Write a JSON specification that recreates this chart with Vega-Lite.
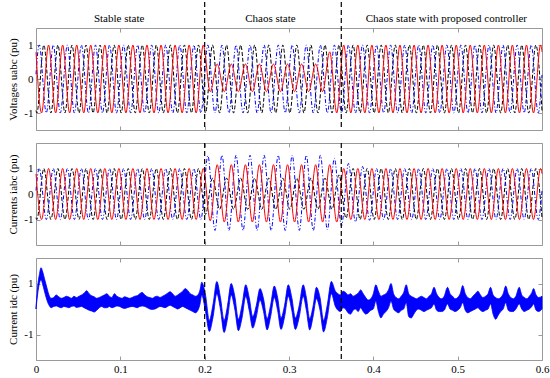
{
"$schema": "https://vega.github.io/schema/vega-lite/v6.json",
"padding": {"left": 7, "top": 0, "right": 0, "bottom": 0},
"spacing": 13,
"bounds": "flush",
"config": {
 "view": {"stroke": "#9a9a9a", "strokeWidth": 1},
 "font": "Liberation Serif",
 "axis": {"domain": false, "grid": false, "ticks": true, "tickSize": -4, "tickColor": "#9a9a9a", "labelFont": "Liberation Serif", "labelFontSize": 11, "labelColor": "#000000", "labelPadding": 7, "labelFlush": false, "labelOverlap": false, "titleFont": "Liberation Serif", "titleFontSize": 11, "titleFontWeight": "normal", "titleColor": "#000000", "titlePadding": 5}
},
"datasets": {
"red": [
{"t":0,"u":0.79,"i":0.79},{"t":0.0066,"u":-1,"i":-1},{"t":0.0149,"u":1,"i":1},{"t":0.0233,"u":-1,"i":-1},{"t":0.0316,"u":1,"i":1},{"t":0.0399,"u":-1,"i":-1},{"t":0.0483,"u":1,"i":1},{"t":0.0566,"u":-1,"i":-1},{"t":0.0649,"u":1,"i":1},{"t":0.0733,"u":-1,"i":-1},{"t":0.0816,"u":1,"i":1},{"t":0.0899,"u":-1,"i":-1},{"t":0.0983,"u":1,"i":1},{"t":0.1066,"u":-1,"i":-1},{"t":0.1149,"u":1,"i":1},{"t":0.1233,"u":-1,"i":-1},{"t":0.1316,"u":1,"i":1},{"t":0.1399,"u":-1,"i":-1},{"t":0.1483,"u":1,"i":1},{"t":0.1566,"u":-1,"i":-1},{"t":0.1649,"u":1,"i":1},{"t":0.1733,"u":-1,"i":-1},{"t":0.1816,"u":1,"i":1},{"t":0.1899,"u":-1,"i":-1},{"t":0.1983,"u":1,"i":1},
{"t":0.2066,"u":-0.37,"i":-1.05},{"t":0.2149,"u":0.44,"i":1.15},{"t":0.2233,"u":-0.37,"i":-1.1},{"t":0.2316,"u":0.44,"i":1.15},{"t":0.2399,"u":-0.37,"i":-1.1},{"t":0.2483,"u":0.44,"i":1.15},{"t":0.2566,"u":-0.37,"i":-1.1},{"t":0.2649,"u":0.44,"i":1.15},{"t":0.2733,"u":-0.37,"i":-1.1},{"t":0.2816,"u":0.44,"i":1.15},{"t":0.2899,"u":-0.37,"i":-1.1},{"t":0.2983,"u":0.44,"i":1.15},{"t":0.3066,"u":-0.37,"i":-1.1},{"t":0.3149,"u":0.44,"i":1.15},{"t":0.3233,"u":-0.37,"i":-1.1},{"t":0.3316,"u":0.44,"i":1.15},{"t":0.3399,"u":-0.37,"i":-1.1},{"t":0.3483,"u":0.8,"i":1.15},{"t":0.3566,"u":-1,"i":-1.1},
{"t":0.3649,"u":1,"i":1},{"t":0.3733,"u":-1,"i":-1},{"t":0.3816,"u":1,"i":1},{"t":0.3899,"u":-1,"i":-1},{"t":0.3983,"u":1,"i":1},{"t":0.4066,"u":-1,"i":-1},{"t":0.4149,"u":1,"i":1},{"t":0.4233,"u":-1,"i":-1},{"t":0.4316,"u":1,"i":1},{"t":0.4399,"u":-1,"i":-1},{"t":0.4483,"u":1,"i":1},{"t":0.4566,"u":-1,"i":-1},{"t":0.4649,"u":1,"i":1},{"t":0.4733,"u":-1,"i":-1},{"t":0.4816,"u":1,"i":1},{"t":0.4899,"u":-1,"i":-1},{"t":0.4983,"u":1,"i":1},{"t":0.5066,"u":-1,"i":-1},{"t":0.5149,"u":1,"i":1},{"t":0.5233,"u":-1,"i":-1},{"t":0.5316,"u":1,"i":1},{"t":0.5399,"u":-1,"i":-1},{"t":0.5483,"u":1,"i":1},{"t":0.5566,"u":-1,"i":-1},{"t":0.5649,"u":1,"i":1},{"t":0.5733,"u":-1,"i":-1},{"t":0.5816,"u":1,"i":1},{"t":0.5899,"u":-1,"i":-1},{"t":0.5983,"u":1,"i":1},{"t":0.6,"u":0.8,"i":0.8}
],
"black": [
{"t":0,"u":-0.93,"i":-0.93},{"t":0.001,"u":-1,"i":-1},{"t":0.0093,"u":1,"i":1},{"t":0.0177,"u":-1,"i":-1},{"t":0.026,"u":1,"i":1},{"t":0.0343,"u":-1,"i":-1},{"t":0.0427,"u":1,"i":1},{"t":0.051,"u":-1,"i":-1},{"t":0.0593,"u":1,"i":1},{"t":0.0677,"u":-1,"i":-1},{"t":0.076,"u":1,"i":1},{"t":0.0843,"u":-1,"i":-1},{"t":0.0927,"u":1,"i":1},{"t":0.101,"u":-1,"i":-1},{"t":0.1093,"u":1,"i":1},{"t":0.1177,"u":-1,"i":-1},{"t":0.126,"u":1,"i":1},{"t":0.1343,"u":-1,"i":-1},{"t":0.1427,"u":1,"i":1},{"t":0.151,"u":-1,"i":-1},{"t":0.1593,"u":1,"i":1},{"t":0.1677,"u":-1,"i":-1},{"t":0.176,"u":1,"i":1},{"t":0.1843,"u":-1,"i":-1},{"t":0.1927,"u":1,"i":1},
{"t":0.201,"u":-1,"i":-0.8},{"t":0.2093,"u":1,"i":0.62},{"t":0.2177,"u":-1,"i":-0.6},{"t":0.226,"u":1,"i":0.62},{"t":0.2343,"u":-1,"i":-0.6},{"t":0.2427,"u":1,"i":0.62},{"t":0.251,"u":-1,"i":-0.6},{"t":0.2593,"u":1,"i":0.62},{"t":0.2677,"u":-1,"i":-0.6},{"t":0.276,"u":1,"i":0.62},{"t":0.2843,"u":-1,"i":-0.6},{"t":0.2927,"u":1,"i":0.62},{"t":0.301,"u":-1,"i":-0.6},{"t":0.3093,"u":1,"i":0.62},{"t":0.3177,"u":-1,"i":-0.6},{"t":0.326,"u":1,"i":0.62},{"t":0.3343,"u":-1,"i":-0.6},{"t":0.3427,"u":1,"i":0.62},{"t":0.351,"u":-1,"i":-0.6},{"t":0.3593,"u":1,"i":0.75},{"t":0.3677,"u":-1,"i":-0.95},
{"t":0.376,"u":1,"i":1},{"t":0.3843,"u":-1,"i":-1},{"t":0.3927,"u":1,"i":1},{"t":0.401,"u":-1,"i":-1},{"t":0.4093,"u":1,"i":1},{"t":0.4177,"u":-1,"i":-1},{"t":0.426,"u":1,"i":1},{"t":0.4343,"u":-1,"i":-1},{"t":0.4427,"u":1,"i":1},{"t":0.451,"u":-1,"i":-1},{"t":0.4593,"u":1,"i":1},{"t":0.4677,"u":-1,"i":-1},{"t":0.476,"u":1,"i":1},{"t":0.4843,"u":-1,"i":-1},{"t":0.4927,"u":1,"i":1},{"t":0.501,"u":-1,"i":-1},{"t":0.5093,"u":1,"i":1},{"t":0.5177,"u":-1,"i":-1},{"t":0.526,"u":1,"i":1},{"t":0.5343,"u":-1,"i":-1},{"t":0.5427,"u":1,"i":1},{"t":0.551,"u":-1,"i":-1},{"t":0.5593,"u":1,"i":1},{"t":0.5677,"u":-1,"i":-1},{"t":0.576,"u":1,"i":1},{"t":0.5843,"u":-1,"i":-1},{"t":0.5927,"u":1,"i":1},{"t":0.6,"u":-0.93,"i":-0.93}
],
"blue": [
{"t":0,"u":0.14,"i":0.14},{"t":0.0038,"u":1,"i":1},{"t":0.0122,"u":-1,"i":-1},{"t":0.0205,"u":1,"i":1},{"t":0.0288,"u":-1,"i":-1},{"t":0.0372,"u":1,"i":1},{"t":0.0455,"u":-1,"i":-1},{"t":0.0538,"u":1,"i":1},{"t":0.0622,"u":-1,"i":-1},{"t":0.0705,"u":1,"i":1},{"t":0.0788,"u":-1,"i":-1},{"t":0.0872,"u":1,"i":1},{"t":0.0955,"u":-1,"i":-1},{"t":0.1038,"u":1,"i":1},{"t":0.1122,"u":-1,"i":-1},{"t":0.1205,"u":1,"i":1},{"t":0.1288,"u":-1,"i":-1},{"t":0.1372,"u":1,"i":1},{"t":0.1455,"u":-1,"i":-1},{"t":0.1538,"u":1,"i":1},{"t":0.1622,"u":-1,"i":-1},{"t":0.1705,"u":1,"i":1},{"t":0.1788,"u":-1,"i":-1},{"t":0.1872,"u":1,"i":1},{"t":0.1955,"u":-1,"i":-1},
{"t":0.2038,"u":1,"i":1.5},{"t":0.2122,"u":-1,"i":-1.43},{"t":0.2205,"u":1,"i":1.52},{"t":0.2288,"u":-1,"i":-1.43},{"t":0.2372,"u":1,"i":1.52},{"t":0.2455,"u":-1,"i":-1.43},{"t":0.2538,"u":1,"i":1.52},{"t":0.2622,"u":-1,"i":-1.43},{"t":0.2705,"u":1,"i":1.52},{"t":0.2788,"u":-1,"i":-1.43},{"t":0.2872,"u":1,"i":1.52},{"t":0.2955,"u":-1,"i":-1.43},{"t":0.3038,"u":1,"i":1.52},{"t":0.3122,"u":-1,"i":-1.43},{"t":0.3205,"u":1,"i":1.52},{"t":0.3288,"u":-1,"i":-1.43},{"t":0.3372,"u":1,"i":1.52},{"t":0.3455,"u":-1,"i":-1.4},{"t":0.3538,"u":1,"i":1.4},{"t":0.3622,"u":-1,"i":-1.25},{"t":0.3705,"u":1,"i":1.2},{"t":0.3788,"u":-1,"i":-1.1},{"t":0.3872,"u":1,"i":1.08},{"t":0.3955,"u":-1,"i":-1.03},
{"t":0.4038,"u":1,"i":1},{"t":0.4122,"u":-1,"i":-1},{"t":0.4205,"u":1,"i":1},{"t":0.4288,"u":-1,"i":-1},{"t":0.4372,"u":1,"i":1},{"t":0.4455,"u":-1,"i":-1},{"t":0.4538,"u":1,"i":1},{"t":0.4622,"u":-1,"i":-1},{"t":0.4705,"u":1,"i":1},{"t":0.4788,"u":-1,"i":-1},{"t":0.4872,"u":1,"i":1},{"t":0.4955,"u":-1,"i":-1},{"t":0.5038,"u":1,"i":1},{"t":0.5122,"u":-1,"i":-1},{"t":0.5205,"u":1,"i":1},{"t":0.5288,"u":-1,"i":-1},{"t":0.5372,"u":1,"i":1},{"t":0.5455,"u":-1,"i":-1},{"t":0.5538,"u":1,"i":1},{"t":0.5622,"u":-1,"i":-1},{"t":0.5705,"u":1,"i":1},{"t":0.5788,"u":-1,"i":-1},{"t":0.5872,"u":1,"i":1},{"t":0.5955,"u":-1,"i":-1},{"t":0.6,"u":0.12,"i":0.12}
],
"idc": [
{"t":0,"hi":0.05,"lo":0},{"t":0.002,"hi":0.9,"lo":0.6},{"t":0.004,"hi":1.35,"lo":1.0},{"t":0.006,"hi":1.62,"lo":1.15},{"t":0.008,"hi":1.45,"lo":0.95},{"t":0.01,"hi":1.2,"lo":0.7},{"t":0.012,"hi":0.95,"lo":0.45},{"t":0.014,"hi":0.7,"lo":0.25},{"t":0.016,"hi":0.5,"lo":0.12},{"t":0.018,"hi":0.42,"lo":0.05},
{"t":0.021,"hi":0.45,"lo":0.1},{"t":0.024,"hi":0.55,"lo":0.12},{"t":0.027,"hi":0.48,"lo":0.08},{"t":0.03,"hi":0.42,"lo":0.05},{"t":0.033,"hi":0.45,"lo":0.1},{"t":0.036,"hi":0.5,"lo":0.08},{"t":0.039,"hi":0.47,"lo":0.05},{"t":0.042,"hi":0.42,"lo":0.1},{"t":0.045,"hi":0.5,"lo":0.12},{"t":0.048,"hi":0.45,"lo":0.06},
{"t":0.051,"hi":0.5,"lo":0.08},{"t":0.054,"hi":0.55,"lo":0.1},{"t":0.057,"hi":0.62,"lo":0.05},{"t":0.06,"hi":0.72,"lo":0.0},{"t":0.063,"hi":0.6,"lo":-0.05},{"t":0.066,"hi":0.52,"lo":-0.08},{"t":0.069,"hi":0.48,"lo":-0.12},{"t":0.072,"hi":0.42,"lo":-0.05},{"t":0.075,"hi":0.45,"lo":0.05},{"t":0.078,"hi":0.5,"lo":0.1},
{"t":0.081,"hi":0.55,"lo":0.05},{"t":0.084,"hi":0.6,"lo":0.05},{"t":0.087,"hi":0.5,"lo":0.1},{"t":0.09,"hi":0.45,"lo":0.05},{"t":0.093,"hi":0.6,"lo":0.08},{"t":0.096,"hi":0.5,"lo":0.12},{"t":0.099,"hi":0.45,"lo":0.1},{"t":0.102,"hi":0.42,"lo":0.05},{"t":0.105,"hi":0.48,"lo":0.02},{"t":0.108,"hi":0.45,"lo":0.05},
{"t":0.111,"hi":0.42,"lo":0.08},{"t":0.114,"hi":0.45,"lo":0.1},{"t":0.117,"hi":0.5,"lo":0.08},{"t":0.12,"hi":0.52,"lo":0.05},{"t":0.123,"hi":0.6,"lo":0.1},{"t":0.126,"hi":0.65,"lo":0.12},{"t":0.129,"hi":0.55,"lo":0.1},{"t":0.132,"hi":0.48,"lo":0.05},{"t":0.135,"hi":0.45,"lo":0.0},{"t":0.138,"hi":0.42,"lo":-0.02},
{"t":0.141,"hi":0.48,"lo":0.0},{"t":0.144,"hi":0.5,"lo":0.05},{"t":0.147,"hi":0.45,"lo":0.1},{"t":0.15,"hi":0.5,"lo":0.08},{"t":0.153,"hi":0.55,"lo":0.05},{"t":0.156,"hi":0.62,"lo":0.1},{"t":0.159,"hi":0.68,"lo":0.15},{"t":0.162,"hi":0.6,"lo":0.1},{"t":0.165,"hi":0.5,"lo":0.05},{"t":0.168,"hi":0.55,"lo":0.0},
{"t":0.171,"hi":0.62,"lo":0.05},{"t":0.174,"hi":0.7,"lo":0.1},{"t":0.177,"hi":0.8,"lo":0.05},{"t":0.18,"hi":0.72,"lo":0.0},{"t":0.183,"hi":0.6,"lo":-0.05},{"t":0.186,"hi":0.55,"lo":-0.1},{"t":0.189,"hi":0.5,"lo":-0.15},{"t":0.192,"hi":0.55,"lo":-0.05},{"t":0.1945,"hi":0.75,"lo":0.2},
{"t":0.1965,"hi":1.05,"lo":0.55},{"t":0.201,"hi":0.55,"lo":-0.1},{"t":0.2055,"hi":-0.45,"lo":-0.88},{"t":0.21,"hi":0.2,"lo":-0.3},{"t":0.2144,"hi":1.08,"lo":0.6},{"t":0.2187,"hi":0.45,"lo":0.0},{"t":0.223,"hi":-0.45,"lo":-0.92},{"t":0.2272,"hi":0.15,"lo":-0.35},
{"t":0.2314,"hi":1.0,"lo":0.55},{"t":0.2357,"hi":0.5,"lo":0.0},{"t":0.24,"hi":-0.4,"lo":-0.85},{"t":0.2443,"hi":0.15,"lo":-0.35},{"t":0.2487,"hi":0.95,"lo":0.5},{"t":0.2528,"hi":0.45,"lo":-0.05},{"t":0.257,"hi":-0.3,"lo":-0.75},{"t":0.2613,"hi":0.15,"lo":-0.3},
{"t":0.2656,"hi":0.8,"lo":0.35},{"t":0.2698,"hi":0.4,"lo":-0.1},{"t":0.274,"hi":-0.38,"lo":-0.82},{"t":0.2782,"hi":0.15,"lo":-0.3},{"t":0.2825,"hi":0.9,"lo":0.45},{"t":0.2865,"hi":0.45,"lo":-0.05},{"t":0.2905,"hi":-0.35,"lo":-0.8},{"t":0.2948,"hi":0.15,"lo":-0.3},
{"t":0.2991,"hi":0.95,"lo":0.5},{"t":0.3033,"hi":0.45,"lo":-0.05},{"t":0.3075,"hi":-0.35,"lo":-0.8},{"t":0.3122,"hi":0.15,"lo":-0.3},{"t":0.3168,"hi":0.95,"lo":0.5},{"t":0.3206,"hi":0.45,"lo":-0.05},{"t":0.3245,"hi":-0.38,"lo":-0.82},{"t":0.3285,"hi":0.1,"lo":-0.3},
{"t":0.3325,"hi":0.85,"lo":0.4},{"t":0.3368,"hi":0.45,"lo":-0.05},{"t":0.341,"hi":-0.45,"lo":-0.9},{"t":0.3456,"hi":0.2,"lo":-0.3},{"t":0.3502,"hi":1.08,"lo":0.6},
{"t":0.355,"hi":0.7,"lo":0.1},{"t":0.358,"hi":0.6,"lo":-0.05},{"t":0.361,"hi":0.55,"lo":-0.1},{"t":0.364,"hi":0.7,"lo":0.05},{"t":0.367,"hi":0.65,"lo":0.0},{"t":0.37,"hi":0.55,"lo":-0.15},{"t":0.373,"hi":0.6,"lo":-0.2},{"t":0.376,"hi":0.5,"lo":-0.05},{"t":0.379,"hi":0.55,"lo":0.0},{"t":0.382,"hi":0.62,"lo":-0.1},
{"t":0.385,"hi":0.75,"lo":0.05},{"t":0.388,"hi":0.6,"lo":-0.1},{"t":0.391,"hi":0.45,"lo":-0.2},{"t":0.394,"hi":0.35,"lo":-0.15},{"t":0.397,"hi":0.4,"lo":-0.05},{"t":0.4,"hi":0.6,"lo":0.0},{"t":0.403,"hi":0.95,"lo":0.3},{"t":0.406,"hi":0.7,"lo":-0.1},{"t":0.409,"hi":0.5,"lo":-0.35},{"t":0.412,"hi":0.55,"lo":-0.2},
{"t":0.415,"hi":0.6,"lo":-0.1},{"t":0.418,"hi":0.75,"lo":0.05},{"t":0.421,"hi":1.0,"lo":0.3},{"t":0.424,"hi":0.6,"lo":0.0},{"t":0.427,"hi":0.45,"lo":-0.1},{"t":0.43,"hi":0.4,"lo":-0.15},{"t":0.433,"hi":0.5,"lo":-0.05},{"t":0.436,"hi":0.65,"lo":0.0},{"t":0.439,"hi":0.95,"lo":0.25},{"t":0.442,"hi":0.6,"lo":-0.3},
{"t":0.445,"hi":0.5,"lo":-0.35},{"t":0.448,"hi":0.45,"lo":-0.2},{"t":0.451,"hi":0.4,"lo":-0.05},{"t":0.454,"hi":0.45,"lo":0.0},{"t":0.457,"hi":0.5,"lo":-0.05},{"t":0.46,"hi":0.45,"lo":-0.1},{"t":0.463,"hi":0.4,"lo":-0.05},{"t":0.466,"hi":0.5,"lo":0.0},{"t":0.469,"hi":0.6,"lo":0.05},{"t":0.472,"hi":0.85,"lo":0.2},
{"t":0.475,"hi":0.6,"lo":-0.05},{"t":0.478,"hi":0.45,"lo":-0.1},{"t":0.481,"hi":0.4,"lo":-0.1},{"t":0.484,"hi":0.5,"lo":-0.05},{"t":0.488,"hi":0.85,"lo":0.2},{"t":0.491,"hi":0.6,"lo":0.0},{"t":0.494,"hi":0.5,"lo":-0.05},{"t":0.497,"hi":0.4,"lo":-0.1},{"t":0.5,"hi":0.45,"lo":-0.05},{"t":0.503,"hi":0.6,"lo":0.05},
{"t":0.506,"hi":0.92,"lo":0.25},{"t":0.509,"hi":0.6,"lo":-0.05},{"t":0.512,"hi":0.45,"lo":-0.15},{"t":0.515,"hi":0.4,"lo":-0.1},{"t":0.518,"hi":0.5,"lo":-0.05},{"t":0.521,"hi":0.6,"lo":0.0},{"t":0.524,"hi":0.7,"lo":0.05},{"t":0.527,"hi":0.55,"lo":-0.05},{"t":0.53,"hi":0.45,"lo":-0.1},{"t":0.533,"hi":0.5,"lo":-0.05},
{"t":0.536,"hi":0.6,"lo":0.0},{"t":0.539,"hi":0.85,"lo":0.2},{"t":0.542,"hi":0.55,"lo":-0.2},{"t":0.545,"hi":0.45,"lo":-0.4},{"t":0.548,"hi":0.4,"lo":-0.25},{"t":0.551,"hi":0.45,"lo":-0.1},{"t":0.554,"hi":0.6,"lo":0.0},{"t":0.557,"hi":0.9,"lo":0.25},{"t":0.56,"hi":0.6,"lo":-0.05},{"t":0.563,"hi":0.45,"lo":-0.1},
{"t":0.566,"hi":0.4,"lo":-0.1},{"t":0.569,"hi":0.5,"lo":0.0},{"t":0.573,"hi":0.85,"lo":0.2},{"t":0.576,"hi":0.55,"lo":0.0},{"t":0.579,"hi":0.45,"lo":-0.1},{"t":0.582,"hi":0.4,"lo":-0.05},{"t":0.585,"hi":0.5,"lo":0.0},{"t":0.588,"hi":0.65,"lo":0.1},{"t":0.59,"hi":0.8,"lo":0.2},{"t":0.593,"hi":0.55,"lo":-0.05},
{"t":0.596,"hi":0.45,"lo":-0.1},{"t":0.6,"hi":0.5,"lo":0.0}
],
"cuts": [{"t":0.2},{"t":0.362}]
},
"vconcat": [
{
 "width": 506, "height": 102,
 "resolve": {"axis": {"x": "independent", "y": "independent"}},
 "layer": [
  {"data": {"name": "black"}, "mark": {"type": "line", "interpolate": "monotone", "color": "#000000", "strokeDash": [4, 2], "strokeWidth": 1},
   "encoding": {"x": {"field": "t", "type": "quantitative", "scale": {"domain": [0, 0.6], "nice": false}, "axis": {"values": [0, 0.1, 0.2, 0.3, 0.4, 0.5, 0.6], "labels": false, "title": null}},
                "y": {"field": "u", "type": "quantitative", "scale": {"domain": [-1.5, 1.5], "nice": false}, "axis": {"values": [-1, 0, 1], "title": "Voltages uabc (pu)", "labelExpr": "''+datum.value"}}}},
  {"data": {"name": "blue"}, "mark": {"type": "line", "interpolate": "monotone", "color": "#0000ff", "strokeDash": [4, 2, 1, 2], "strokeWidth": 1},
   "encoding": {"x": {"field": "t", "type": "quantitative", "axis": {"orient": "top", "values": [0.098, 0.2774, 0.486], "ticks": false, "labelPadding": 7, "labelBaseline": "alphabetic", "title": null, "labelExpr": "datum.value < 0.15 ? 'Stable state' : (datum.value < 0.35 ? 'Chaos state' : 'Chaos state with proposed controller')"}},
                "y": {"field": "u", "type": "quantitative", "axis": null}}},
  {"data": {"name": "red"}, "mark": {"type": "line", "interpolate": "monotone", "color": "#ff0000", "strokeWidth": 1},
   "encoding": {"x": {"field": "t", "type": "quantitative", "axis": null}, "y": {"field": "u", "type": "quantitative", "axis": null}}},
  {"data": {"name": "cuts"}, "mark": {"type": "rule", "color": "#000000", "strokeDash": [5, 3], "strokeWidth": 1.2, "yOffset": -26, "y2Offset": 13},
   "encoding": {"x": {"field": "t", "type": "quantitative", "axis": {"orient": "top", "values": [0, 0.1, 0.2, 0.3, 0.4, 0.5, 0.6], "labels": false, "title": null}}}},
  {"data": {"name": "cuts"}, "mark": {"type": "point", "opacity": 0},
   "encoding": {"x": {"field": "t", "type": "quantitative", "axis": null},
                "y": {"datum": 0, "type": "quantitative", "scale": {"domain": [-1.5, 1.5], "nice": false}, "axis": {"orient": "right", "values": [-1, 0, 1], "labels": false, "title": null}}}}
 ]
},
{
 "width": 506, "height": 102,
 "resolve": {"axis": {"x": "independent", "y": "independent"}},
 "layer": [
  {"data": {"name": "black"}, "mark": {"type": "line", "interpolate": "monotone", "color": "#000000", "strokeDash": [4, 2], "strokeWidth": 1},
   "encoding": {"x": {"field": "t", "type": "quantitative", "scale": {"domain": [0, 0.6], "nice": false}, "axis": {"values": [0, 0.1, 0.2, 0.3, 0.4, 0.5, 0.6], "labels": false, "title": null}},
                "y": {"field": "i", "type": "quantitative", "scale": {"domain": [-2, 2], "nice": false}, "axis": {"values": [-1, 0, 1], "title": "Currents iabc (pu)", "labelExpr": "''+datum.value"}}}},
  {"data": {"name": "blue"}, "mark": {"type": "line", "interpolate": "monotone", "color": "#0000ff", "strokeDash": [4, 2, 1, 2], "strokeWidth": 1},
   "encoding": {"x": {"field": "t", "type": "quantitative", "axis": null}, "y": {"field": "i", "type": "quantitative", "axis": null}}},
  {"data": {"name": "red"}, "mark": {"type": "line", "interpolate": "monotone", "color": "#ff0000", "strokeWidth": 1},
   "encoding": {"x": {"field": "t", "type": "quantitative", "axis": null}, "y": {"field": "i", "type": "quantitative", "axis": null}}},
  {"data": {"name": "cuts"}, "mark": {"type": "rule", "color": "#000000", "strokeDash": [5, 3], "strokeWidth": 1.2, "y2Offset": 13},
   "encoding": {"x": {"field": "t", "type": "quantitative", "axis": {"orient": "top", "values": [0, 0.1, 0.2, 0.3, 0.4, 0.5, 0.6], "labels": false, "title": null}}}},
  {"data": {"name": "cuts"}, "mark": {"type": "point", "opacity": 0},
   "encoding": {"x": {"field": "t", "type": "quantitative", "axis": null},
                "y": {"datum": 0, "type": "quantitative", "scale": {"domain": [-2, 2], "nice": false}, "axis": {"orient": "right", "values": [-1, 0, 1], "labels": false, "title": null}}}}
 ]
},
{
 "width": 506, "height": 102,
 "resolve": {"axis": {"x": "independent", "y": "independent"}},
 "layer": [
  {"data": {"name": "idc"}, "mark": {"type": "area", "interpolate": "monotone", "color": "#0000ff", "stroke": "#0000ff", "strokeWidth": 0.8},
   "encoding": {"x": {"field": "t", "type": "quantitative", "scale": {"domain": [0, 0.6], "nice": false}, "axis": {"values": [0, 0.1, 0.2, 0.3, 0.4, 0.5, 0.6], "title": null, "labelExpr": "''+datum.value"}},
                "y": {"field": "hi", "type": "quantitative", "scale": {"domain": [-2, 2], "nice": false}, "axis": {"values": [-1, 1], "title": "Current idc (pu)", "labelExpr": "''+datum.value"}},
                "y2": {"field": "lo"}}},
  {"data": {"name": "cuts"}, "mark": {"type": "rule", "color": "#000000", "strokeDash": [5, 3], "strokeWidth": 1.2, "y2Offset": 5},
   "encoding": {"x": {"field": "t", "type": "quantitative", "axis": {"orient": "top", "values": [0, 0.1, 0.2, 0.3, 0.4, 0.5, 0.6], "labels": false, "title": null}}}},
  {"data": {"name": "cuts"}, "mark": {"type": "point", "opacity": 0},
   "encoding": {"x": {"field": "t", "type": "quantitative", "axis": null},
                "y": {"datum": 0, "type": "quantitative", "scale": {"domain": [-2, 2], "nice": false}, "axis": {"orient": "right", "values": [-1, 1], "labels": false, "title": null}}}}
 ]
}
]
}
